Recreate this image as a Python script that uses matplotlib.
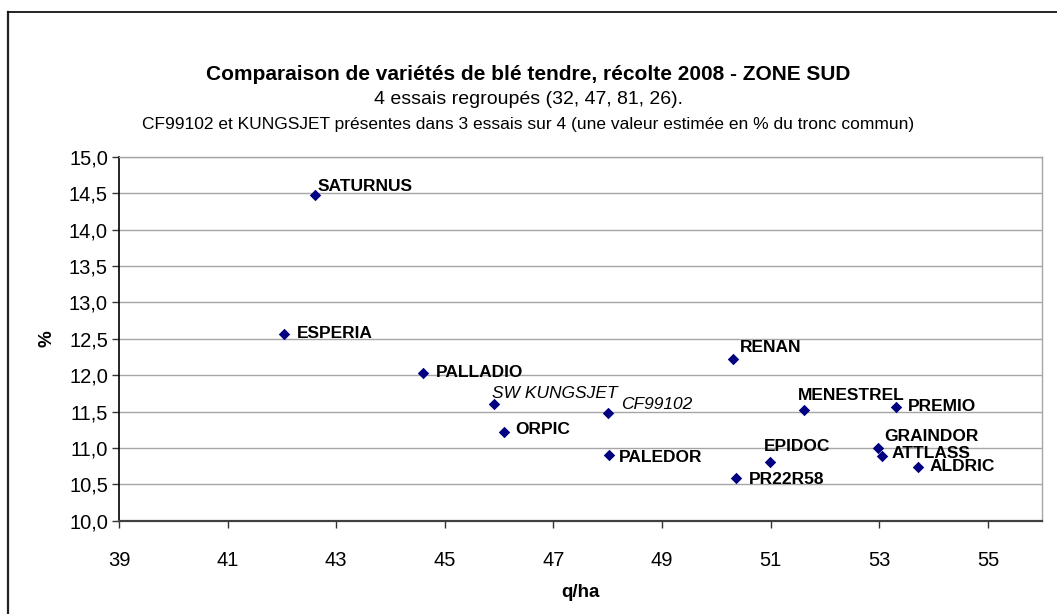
import matplotlib
matplotlib.use("Agg")
import matplotlib.pyplot as plt
from matplotlib.lines import Line2D

plt.rcParams['font.family'] = ['Liberation Sans', 'DejaVu Sans']

# ---- data ----
varieties = ["SATURNUS", "ESPERIA", "PALLADIO", "SW KUNGSJET", "CF99102", "ORPIC",
             "PALEDOR", "RENAN", "MENESTREL", "PREMIO", "GRAINDOR", "ATTLASS",
             "ALDRIC", "EPIDOC", "PR22R58"]
yield_qha = [42.6, 42.04, 44.6, 45.91, 48.0, 46.09,
             48.02, 50.31, 51.61, 53.3, 52.97, 53.05,
             53.72, 50.99, 50.36]
protein_pct = [14.47, 12.57, 12.03, 11.6, 11.48, 11.22,
               10.9, 12.22, 11.52, 11.56, 11.0, 10.89,
               10.74, 10.81, 10.59]
italic_varieties = ["SW KUNGSJET", "CF99102"]

x_ticks = [39, 41, 43, 45, 47, 49, 51, 53, 55]
y_ticks = [10.0, 10.5, 11.0, 11.5, 12.0, 12.5, 13.0, 13.5, 14.0, 14.5, 15.0]

title = "Comparaison de variétés de blé tendre, récolte 2008 - ZONE SUD"
subtitle = "4 essais regroupés (32, 47, 81, 26)."
note = "CF99102 et KUNGSJET présentes dans 3 essais sur 4 (une valeur estimée en % du tronc commun)"

# label offsets (pixels): text left edge / vertical center relative to marker
label_offsets = {
    "SATURNUS": (3, 9), "ESPERIA": (13, 0), "PALLADIO": (13, 0),
    "SW KUNGSJET": (-2, 11), "CF99102": (13, 8), "ORPIC": (11, 2),
    "PALEDOR": (10, -2), "RENAN": (7, 12), "MENESTREL": (-6, 15),
    "PREMIO": (12, 1), "GRAINDOR": (7, 11), "ATTLASS": (9, 2),
    "ALDRIC": (11, 0), "EPIDOC": (-6, 15), "PR22R58": (13, -2),
}

W, H = 1057, 614
fig = plt.figure(figsize=(W / 100, H / 100), dpi=100)
ax = fig.add_axes([119 / W, 1 - 520.7 / H, (1042.3 - 119) / W, (520.7 - 156.7) / H])

ax.scatter(yield_qha, protein_pct, marker='D', s=34, color='#000080', zorder=3,
           linewidths=0)

for name, xv, yv in zip(varieties, yield_qha, protein_pct):
    dx, dy = label_offsets[name]
    if name in italic_varieties:
        kw = dict(fontstyle='italic', fontweight='normal')
    else:
        kw = dict(fontweight='bold')
    ax.annotate(name, (xv, yv), xytext=(dx, dy), textcoords='offset pixels',
                ha='left', va='center', fontsize=12.5, color='black', zorder=4, **kw)

ax.set_xlim(39, 56)
ax.set_ylim(10, 15)
ax.set_xticks(x_ticks)
ax.set_xticklabels([str(t) for t in x_ticks])
ax.set_yticks(y_ticks)
ax.set_yticklabels([f"{t:.1f}".replace('.', ',') for t in y_ticks])
ax.tick_params(axis='both', labelsize=14.5, direction='out', length=5, width=1,
               color='#333333')
ax.tick_params(axis='x', pad=17)
ax.tick_params(axis='y', pad=3)

ax.grid(axis='y', color='#a6a6a6', linewidth=1)
ax.set_axisbelow(True)
for side in ['top', 'right']:
    ax.spines[side].set_color('#a6a6a6')
    ax.spines[side].set_linewidth(1)
ax.spines['left'].set_color('black')
ax.spines['left'].set_linewidth(1.2)
ax.spines['bottom'].set_color('#404040')
ax.spines['bottom'].set_linewidth(1.6)

ax.set_xlabel("q/ha", fontsize=13.5, fontweight='bold', labelpad=10)
ax.set_ylabel("%", fontsize=13.5, fontweight='bold', labelpad=10)

fig.text(528 / W, 1 - 74 / H, title, ha='center', va='center', fontsize=15,
         fontweight='bold')
fig.text(528 / W, 1 - 99 / H, subtitle, ha='center', va='center', fontsize=14)
fig.text(528 / W, 1 - 124 / H, note, ha='center', va='center', fontsize=12.5)

# outer chart border (left and top visible)
fig.add_artist(Line2D([8 / W, 8 / W], [0, 1 - 12 / H], transform=fig.transFigure,
                      color='#222222', linewidth=1.6))
fig.add_artist(Line2D([8 / W, 1.0], [1 - 12 / H, 1 - 12 / H], transform=fig.transFigure,
                      color='black', linewidth=1.2))

fig.savefig("out.png", dpi=100)
